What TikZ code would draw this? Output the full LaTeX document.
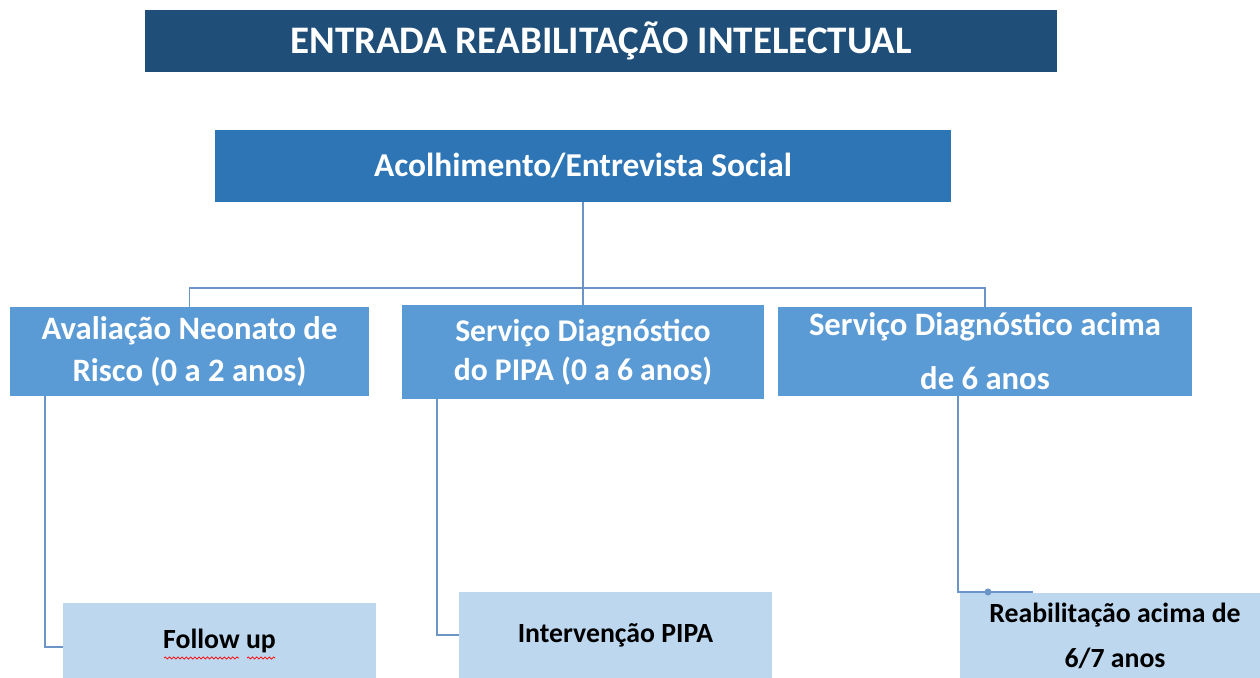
\documentclass[tikz,border=0pt]{standalone}
\usepackage{fontspec}
\setmainfont{Carlito}
\usetikzlibrary{decorations.pathmorphing}

\definecolor{titleblue}{HTML}{1F4E79}
\definecolor{mainblue}{HTML}{2E75B6}
\definecolor{midblue}{HTML}{5B9BD5}
\definecolor{paleblue}{HTML}{BDD7EE}
\definecolor{linkblue}{HTML}{6A95C6}

\begin{document}
\begin{tikzpicture}[x=0.02cm,y=-0.02cm,
    box/.style 2 args={rectangle,inner sep=0pt,outer sep=0pt,align=center,
      minimum width=#1*0.02cm,minimum height=#2*0.02cm},
    head/.style={fill=titleblue,text=white,font=\bfseries\fontsize{22.2}{26}\selectfont},
    entry/.style={fill=mainblue,text=white,font=\bfseries\fontsize{19}{23}\selectfont},
    branch/.style={fill=midblue,text=white},
    leaf/.style={fill=paleblue,text=black},
    link/.style={draw=linkblue,line width=1.1pt},
    dot/.style={circle,fill=linkblue,minimum size=4pt,inner sep=0pt}]
\useasboundingbox (0,0) rectangle (1260,678);

% titulo e acolhimento
\node[box={912}{62},head] (title) at (601,41) {ENTRADA REABILITAÇÃO INTELECTUAL};
\node[box={736}{72},entry] (acol) at (583,166) {Acolhimento/Entrevista Social};

% servicos
\node[box={359}{89},branch,font=\bfseries\fontsize{18.6}{23.9}\selectfont] (neo) at (189.5,351.5)
  {Avaliação Neonato de\\Risco (0 a 2 anos)};
\node[box={362}{94},branch,font=\bfseries\fontsize{18}{22.2}\selectfont] (pipa) at (583,352)
  {Serviço Diagnóstico\\do PIPA (0 a 6 anos)};
\node[box={414}{89},branch,font=\bfseries\fontsize{18.6}{30.7}\selectfont] (acima) at (985,351.5)
  {Serviço Diagnóstico acima\\de 6 anos};

% encaminhamentos
\node[box={313}{75},leaf,font=\bfseries\fontsize{15.8}{18}\selectfont] (follow) at (219.5,640.5) {Follow up};
\node[box={313}{86},leaf,font=\bfseries\fontsize{15.8}{18}\selectfont] (interv) at (615.5,635) {Intervenção PIPA};
\node[box={310}{85},leaf,font=\bfseries\fontsize{15.8}{25.6}\selectfont] (reab) at (1115,635.5)
  {Reabilitação acima de\\6/7 anos};

\coordinate (hub) at (583,288);
\coordinate (reabend) at (1033,592);
\node[dot] (reabdot) at (988,592) {};

\draw[link] (acol.south) -- (pipa.north);
\draw[link] (neo.north) |- (hub) -| (acima.north);
\draw[link] ([xshift=0.7cm]neo.south west) |- ([yshift=-0.13cm]follow.west);
\draw[link] ([xshift=0.7cm]pipa.south west) |- (interv.west);
\draw[link] ([xshift=-0.54cm]acima.south) |- (reabend);

% sublinhado do corretor
\draw[red,line width=0.4pt,decorate,decoration={snake,amplitude=0.6pt,segment length=2.4pt}]
  (164,658) -- (239,658);
\draw[red,line width=0.4pt,decorate,decoration={snake,amplitude=0.6pt,segment length=2.4pt}]
  (247,658) -- (275,658);
\end{tikzpicture}
\end{document}
